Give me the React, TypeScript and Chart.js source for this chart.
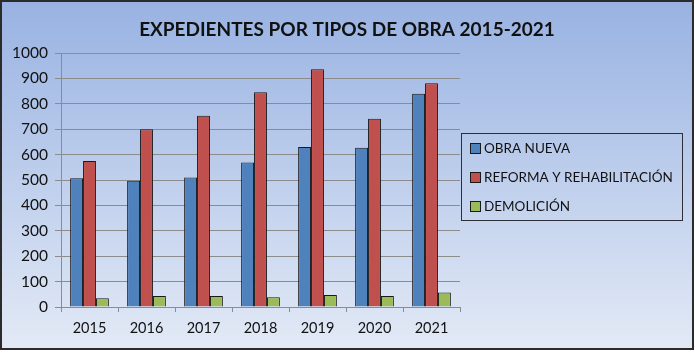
import React, { useEffect, useRef } from "react";
import { Chart, registerables } from "chart.js";

Chart.register(...registerables);

const categories = ["2015", "2016", "2017", "2018", "2019", "2020", "2021"];
const obraNueva = [507, 497, 510, 569, 630, 627, 840];
const reforma = [575, 700, 753, 845, 936, 741, 881];
const demolicion = [34, 43, 43, 38, 47, 43, 57];
const seriesLabels = ["OBRA NUEVA", "REFORMA Y REHABILITACIÓN", "DEMOLICIÓN"];
const seriesColors = ["#4f81bd", "#c0504d", "#9bbb59"];
const titleText = "EXPEDIENTES POR TIPOS DE OBRA 2015-2021";

const FONT = "Lato, 'Open Sans', sans-serif";

const framePlugin = {
  id: "frame",
  beforeDraw(chart: any) {
    const ctx = chart.ctx;
    ctx.save();
    ctx.fillStyle = "#ffffff";
    ctx.fillRect(0, 0, chart.width, chart.height);
    const g = ctx.createLinearGradient(0, 0, 0, 350);
    g.addColorStop(0, "#98b2e2");
    g.addColorStop(1, "#e3eaf6");
    ctx.fillStyle = g;
    ctx.fillRect(1, 1, 692, 348);
    ctx.restore();
  },
  afterDraw(chart: any) {
    const ctx = chart.ctx;
    ctx.save();
    ctx.strokeStyle = "#2b2b2b";
    ctx.lineWidth = 2;
    ctx.strokeRect(1, 1, 692, 348);
    ctx.fillStyle = "#111111";
    ctx.font = `bold 19px ${FONT}`;
    ctx.textAlign = "center";
    ctx.textBaseline = "middle";
    ctx.fillText(titleText, 347, 30);
    ctx.strokeStyle = "#2e2e3a";
    ctx.lineWidth = 1;
    ctx.strokeRect(461.5, 133.5, 221, 87);
    const ds = chart.data.datasets;
    const ys = [148, 177, 206];
    ctx.textAlign = "left";
    ctx.font = `13.5px ${FONT}`;
    ds.forEach((d: any, i: number) => {
      const y = ys[i];
      ctx.fillStyle = d.backgroundColor;
      ctx.fillRect(470, y - 5, 10, 10);
      ctx.strokeStyle = "#1a1a1a";
      ctx.strokeRect(470.5, y - 4.5, 10, 10);
      ctx.fillStyle = "#111111";
      ctx.fillText(d.label, 484, y + 1);
    });
    ctx.restore();
  },
};

export default function App() {
  const ref = useRef<HTMLCanvasElement | null>(null);
  useEffect(() => {
    document.body.style.margin = "0";
    const canvas = ref.current!;
    const data = [obraNueva, reforma, demolicion];
    const chart = new Chart(canvas, {
      type: "bar",
      data: {
        labels: categories,
        datasets: data.map((vals, i) => ({
          label: seriesLabels[i],
          data: vals,
          backgroundColor: seriesColors[i],
          borderColor: "#1a1a1a",
          borderWidth: 1,
          categoryPercentage: 0.68,
          barPercentage: 1.0,
        })),
      },
      options: {
        responsive: false,
        animation: false,
        devicePixelRatio: 1,
        layout: { padding: { left: 0, right: 235, top: 53, bottom: 0 } },
        plugins: {
          legend: { display: false },
          title: { display: false },
          tooltip: { enabled: false },
        },
        scales: {
          x: {
            afterFit: (s: any) => {
              s.height = 50;
            },
            grid: {
              offset: true,
              drawOnChartArea: false,
              drawTicks: true,
              tickLength: 5,
              color: "#8c8c8c",
            },
            border: { display: true, color: "#8c8c8c" },
            ticks: {
              color: "#111111",
              font: { family: FONT, size: 14.5 },
              padding: 8,
            },
          },
          y: {
            min: 0,
            max: 1000,
            afterFit: (s: any) => {
              s.width = 61;
            },
            grid: {
              color: "#8c8c8c",
              drawTicks: true,
              tickLength: 6,
            },
            border: { display: true, color: "#8c8c8c" },
            ticks: {
              stepSize: 100,
              color: "#111111",
              font: { family: FONT, size: 15.5 },
              padding: 7,
              callback: (v: any) => String(v),
            },
          },
        },
      },
      plugins: [framePlugin],
    });
    return () => chart.destroy();
  }, []);
  return (
    <canvas
      ref={ref}
      width={695}
      height={357}
      style={{ display: "block", width: 695, height: 357 }}
    />
  );
}
